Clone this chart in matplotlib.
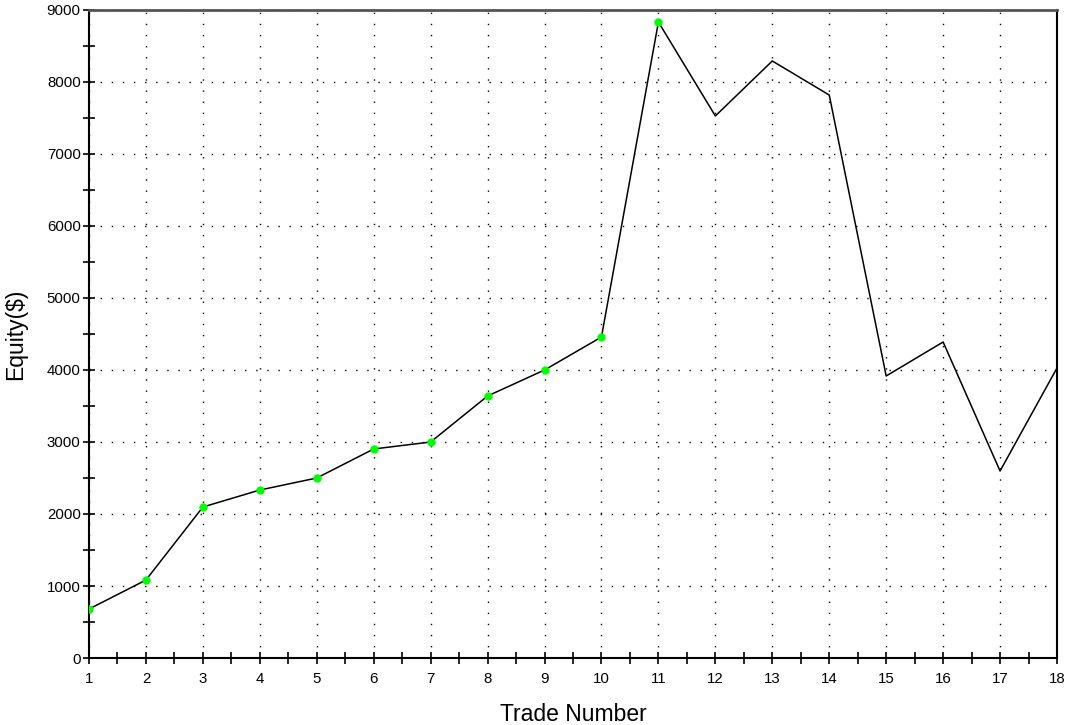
import matplotlib
matplotlib.use("Agg")
import matplotlib.pyplot as plt
from matplotlib.ticker import MultipleLocator

trades = list(range(1, 19))
equity = [680, 1083, 2097, 2333, 2500, 2903, 3000, 3639, 4000, 4458,
          8833, 7528, 8292, 7819, 3917, 4389, 2597, 4028]
high_trades = [1, 2, 3, 4, 5, 6, 7, 8, 9, 10, 11]
high_equity = [680, 1083, 2097, 2333, 2500, 2903, 3000, 3639, 4000, 4458, 8833]

plt.rcParams['font.family'] = ['Liberation Sans', 'DejaVu Sans']

fig = plt.figure(figsize=(10.7, 7.25), dpi=100)
ax = fig.add_axes([89/1070, 1 - 658/725, (1057 - 89)/1070, (658 - 10)/725])

ax.plot(trades, equity, color='black', lw=1.1, zorder=3)
ax.plot(high_trades, high_equity, 'o', color='#00ff00', ms=5, mec='#00ff00', zorder=4)

ax.set_xlim(1, 18)
ax.set_ylim(0, 9000)
ax.xaxis.set_major_locator(MultipleLocator(1))
ax.xaxis.set_minor_locator(MultipleLocator(0.5))
ax.yaxis.set_major_locator(MultipleLocator(1000))
ax.yaxis.set_minor_locator(MultipleLocator(500))

ax.grid(True, which='major', color='black', linestyle=(0, (1, 7)), lw=1.0)
ax.tick_params(which='both', direction='inout', length=8, width=1.2, labelsize=10.8, colors='black')
ax.tick_params(axis='x', pad=6)
ax.tick_params(axis='y', pad=2)

for s in ['left', 'bottom', 'right']:
    ax.spines[s].set_color('black')
    ax.spines[s].set_linewidth(1.5)
ax.spines['top'].set_color('#555555')
ax.spines['top'].set_linewidth(2)

ax.set_xlabel('Trade Number', fontsize=16.5, labelpad=12)
ax.set_ylabel('Equity($)', fontsize=16.5, labelpad=14)

fig.savefig('out.png', dpi=100, facecolor='white')
